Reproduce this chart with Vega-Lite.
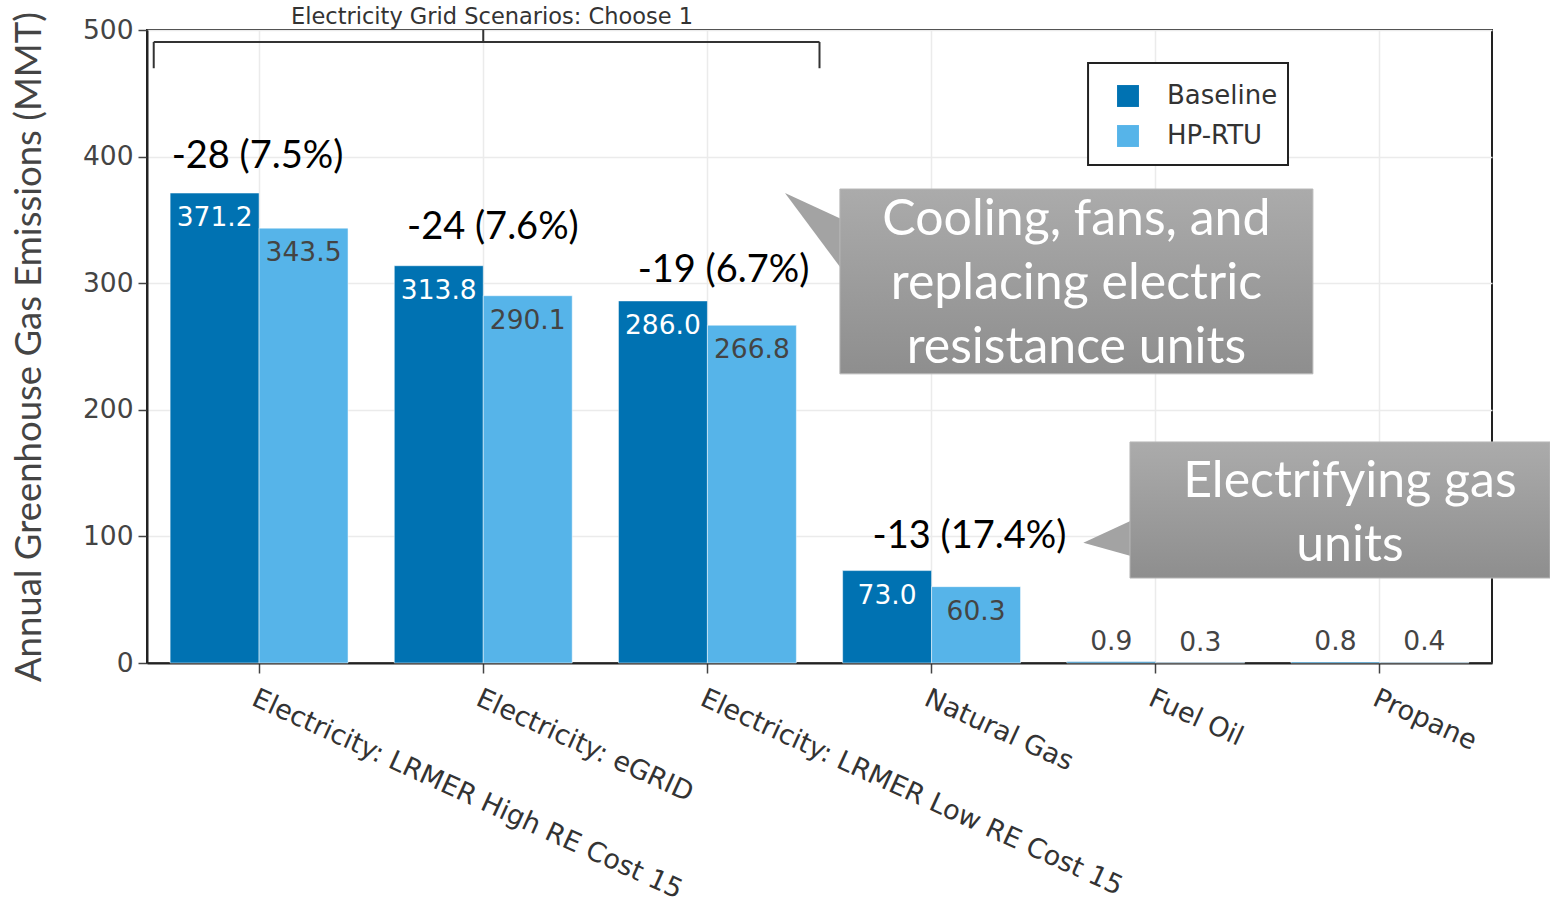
{
  "$schema": "https://vega.github.io/schema/vega-lite/v6.json",
  "width": 1345,
  "height": 633,
  "autosize": {"type": "none"},
  "padding": {"left": 147, "top": 30, "right": 58, "bottom": 245},
  "background": "white",
  "config": {
    "view": {"stroke": "#222", "strokeWidth": 2},
    "axis": {"gridColor": "#ebebeb", "gridWidth": 1.5},
    "text": {"lineBreak": "\n"}
  },
  "datasets": {
    "emissions": [
      {"category": "Electricity: LRMER High RE Cost 15", "series": "Baseline", "value": 371.2},
      {"category": "Electricity: LRMER High RE Cost 15", "series": "HP-RTU", "value": 343.5},
      {"category": "Electricity: eGRID", "series": "Baseline", "value": 313.8},
      {"category": "Electricity: eGRID", "series": "HP-RTU", "value": 290.1},
      {"category": "Electricity: LRMER Low RE Cost 15", "series": "Baseline", "value": 286.0},
      {"category": "Electricity: LRMER Low RE Cost 15", "series": "HP-RTU", "value": 266.8},
      {"category": "Natural Gas", "series": "Baseline", "value": 73.0},
      {"category": "Natural Gas", "series": "HP-RTU", "value": 60.3},
      {"category": "Fuel Oil", "series": "Baseline", "value": 0.9},
      {"category": "Fuel Oil", "series": "HP-RTU", "value": 0.3},
      {"category": "Propane", "series": "Baseline", "value": 0.8},
      {"category": "Propane", "series": "HP-RTU", "value": 0.4}
    ],
    "changes": [
      {"pos": 0.493, "level": 399.7, "label": "-28 (7.5%)"},
      {"pos": 1.543, "level": 343.6, "label": "-24 (7.6%)"},
      {"pos": 2.572, "level": 309.6, "label": "-19 (6.7%)"},
      {"pos": 3.669, "level": 99.5, "label": "-13 (17.4%)"}
    ],
    "bracket": [
      {"from": 0.03, "to": 3.0, "top": 490.5, "bottom": 490.5},
      {"from": 0.03, "to": 0.03, "top": 490.5, "bottom": 469.8},
      {"from": 3.0, "to": 3.0, "top": 490.5, "bottom": 469.8},
      {"from": 1.5, "to": 1.5, "top": 500, "bottom": 490.5}
    ],
    "bracketLabel": [
      {"pos": 1.539, "level": 510.3, "label": "Electricity Grid Scenarios: Choose 1"}
    ],
    "legendFrame": [
      {"from": 4.198, "to": 5.090, "top": 473.9, "bottom": 393.4}
    ],
    "calloutBoxes": [
      {"id": "cooling", "from": 3.091, "to": 5.201, "top": 374.4, "bottom": 228.4},
      {"id": "gas", "from": 4.385, "to": 6.259, "top": 174.6, "bottom": 67.1}
    ],
    "calloutPointers": [
      {"id": "cooling", "pos": 2.846, "top": 371.2, "bottom": 371.2},
      {"id": "cooling", "pos": 3.095, "top": 351.0, "bottom": 312.0},
      {"id": "gas", "pos": 4.177, "top": 95.0, "bottom": 95.0},
      {"id": "gas", "pos": 4.389, "top": 112.4, "bottom": 84.5}
    ],
    "calloutText": [
      {"pos": 4.146, "level": 350.0, "label": "Cooling, fans, and\nreplacing electric\nresistance units"},
      {"pos": 5.366, "level": 143.0, "label": "Electrifying gas\nunits"}
    ]
  },
  "resolve": {"scale": {"x": "independent"}, "axis": {"x": "independent"}},
  "layer": [
    {
      "data": {"name": "legendFrame"},
      "mark": {"type": "rect", "fill": "white", "stroke": "#222", "strokeWidth": 2},
      "encoding": {
        "x": {"field": "from", "type": "quantitative", "scale": {"domain": [0, 6], "nice": false, "zero": false}, "axis": null},
        "x2": {"field": "to"},
        "y": {"field": "top", "type": "quantitative", "scale": {"domain": [0, 500], "nice": false}},
        "y2": {"field": "bottom"}
      }
    },
    {
      "data": {"name": "emissions"},
      "encoding": {
        "x": {
          "field": "category",
          "type": "nominal",
          "sort": null,
          "scale": {"paddingInner": 0, "paddingOuter": 0},
          "axis": {
            "title": null,
            "labelAngle": 24.5,
            "labelAlign": "left",
            "labelBaseline": "top",
            "labelFont": "DejaVu Sans",
            "labelFontSize": 27,
            "labelColor": "#333",
            "labelPadding": 12,
            "labelLimit": 0,
            "tickColor": "#444",
            "tickSize": 10,
            "tickWidth": 1.5,
            "domainColor": "#222",
            "domainWidth": 2,
            "grid": true
          }
        },
        "xOffset": {
          "field": "series",
          "type": "nominal",
          "scale": {"paddingInner": 0, "paddingOuter": 0.26}
        },
        "y": {
          "field": "value",
          "type": "quantitative",
          "scale": {"domain": [0, 500], "nice": false},
          "axis": {
            "title": "Annual Greenhouse Gas Emissions (MMT)",
            "titleFont": "Lato",
            "titleFontSize": 36.5,
            "titleFontWeight": "normal",
            "titleColor": "#444",
            "titlePadding": 34,
            "values": [0, 100, 200, 300, 400, 500],
            "labelFont": "DejaVu Sans",
            "labelFontSize": 26.5,
            "labelColor": "#444",
            "labelPadding": 5,
            "tickColor": "#444",
            "tickSize": 9,
            "tickWidth": 1.5,
            "domainColor": "#222",
            "domainWidth": 2,
            "grid": true
          }
        }
      },
      "layer": [
        {
          "mark": {"type": "bar", "stroke": "white", "strokeWidth": 0.5},
          "encoding": {
            "color": {
              "field": "series",
              "type": "nominal",
              "scale": {"domain": ["Baseline", "HP-RTU"], "range": ["#0072B2", "#56B4E9"]},
              "legend": {
                "title": null,
                "orient": "none",
                "legendX": 941,
                "legendY": 37,
                "direction": "vertical",
                "symbolType": "square",
                "symbolSize": 480,
                "symbolStrokeWidth": 0,
                "symbolOffset": 11,
                "labelFont": "DejaVu Sans",
                "labelFontSize": 26,
                "labelColor": "#333",
                "labelOffset": 26,
                "rowPadding": 14,
                "padding": 16
              }
            }
          }
        },
        {
          "transform": [{"filter": "datum.value > 10"}],
          "mark": {"type": "text", "font": "DejaVu Sans", "fontSize": 26.5, "baseline": "alphabetic", "dy": 33},
          "encoding": {
            "text": {"field": "value", "type": "quantitative", "format": ".1f"},
            "color": {
              "condition": {"test": "datum.series === 'Baseline'", "value": "white"},
              "value": "#444"
            }
          }
        },
        {
          "transform": [{"filter": "datum.value <= 10"}],
          "mark": {"type": "text", "font": "DejaVu Sans", "fontSize": 26.5, "baseline": "alphabetic", "dy": -12, "color": "#444"},
          "encoding": {
            "text": {"field": "value", "type": "quantitative", "format": ".1f"}
          }
        }
      ]
    },
    {
      "data": {"name": "bracket"},
      "mark": {"type": "rule", "color": "#333", "strokeWidth": 2},
      "encoding": {
        "x": {"field": "from", "type": "quantitative", "scale": {"domain": [0, 6], "nice": false, "zero": false}, "axis": null},
        "x2": {"field": "to"},
        "y": {"field": "top", "type": "quantitative", "scale": {"domain": [0, 500], "nice": false}},
        "y2": {"field": "bottom"}
      }
    },
    {
      "data": {"name": "bracketLabel"},
      "mark": {"type": "text", "font": "DejaVu Sans", "fontSize": 22.5, "color": "#333", "baseline": "middle"},
      "encoding": {
        "x": {"field": "pos", "type": "quantitative", "scale": {"domain": [0, 6], "nice": false, "zero": false}, "axis": null},
        "y": {"field": "level", "type": "quantitative", "scale": {"domain": [0, 500], "nice": false}},
        "text": {"field": "label"}
      }
    },
    {
      "data": {"name": "changes"},
      "mark": {"type": "text", "font": "Lato", "fontSize": 38, "color": "black", "baseline": "middle"},
      "encoding": {
        "x": {"field": "pos", "type": "quantitative", "scale": {"domain": [0, 6], "nice": false, "zero": false}, "axis": null},
        "y": {"field": "level", "type": "quantitative", "scale": {"domain": [0, 500], "nice": false}},
        "text": {"field": "label"}
      }
    },
    {
      "data": {"name": "calloutPointers"},
      "mark": {"type": "area", "orient": "vertical", "color": "#a3a3a3"},
      "encoding": {
        "x": {"field": "pos", "type": "quantitative", "scale": {"domain": [0, 6], "nice": false, "zero": false}, "axis": null},
        "y": {"field": "top", "type": "quantitative", "scale": {"domain": [0, 500], "nice": false}},
        "y2": {"field": "bottom"},
        "detail": {"field": "id"}
      }
    },
    {
      "data": {"name": "calloutBoxes"},
      "mark": {
        "type": "rect",
        "stroke": "#b8b8b8",
        "strokeWidth": 1,
        "fill": {"gradient": "linear", "x1": 0, "y1": 0, "x2": 0, "y2": 1,
                 "stops": [{"offset": 0, "color": "#ababab"}, {"offset": 1, "color": "#8e8e8e"}]}
      },
      "encoding": {
        "x": {"field": "from", "type": "quantitative", "scale": {"domain": [0, 6], "nice": false, "zero": false}, "axis": null},
        "x2": {"field": "to"},
        "y": {"field": "top", "type": "quantitative", "scale": {"domain": [0, 500], "nice": false}},
        "y2": {"field": "bottom"}
      }
    },
    {
      "data": {"name": "calloutText"},
      "mark": {"type": "text", "font": "Lato", "fontSize": 50, "color": "white", "baseline": "middle", "lineHeight": 64},
      "encoding": {
        "x": {"field": "pos", "type": "quantitative", "scale": {"domain": [0, 6], "nice": false, "zero": false}, "axis": null},
        "y": {"field": "level", "type": "quantitative", "scale": {"domain": [0, 500], "nice": false}},
        "text": {"field": "label"}
      }
    }
  ]
}
